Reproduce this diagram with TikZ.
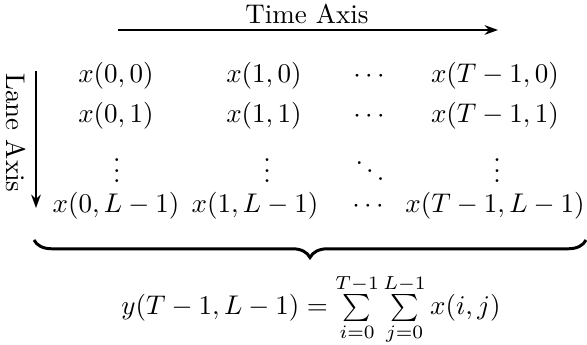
\documentclass[tikz,border=0pt]{standalone}
\usetikzlibrary{arrows.meta,decorations.pathreplacing}
\begin{document}
\begin{tikzpicture}[x=0.37037pt,y=-0.37037pt,
  cell/.style={anchor=base,inner sep=0pt},
  axislabel/.style={inner sep=0pt},
  axisarrow/.style={-{Stealth[length=5pt,width=3.6pt]},line width=0.5pt},
  bracestyle/.style={decorate,decoration={brace,mirror,amplitude=6.5pt},line width=1.1pt}]
\useasboundingbox (0,0) rectangle (587,345);
% axes
\node[axislabel] (tlabel) at (307,14) {Time Axis};
\coordinate (ts) at (118,30);
\coordinate (te) at (498,30);
\draw[axisarrow] (ts) -- (te);
\node[axislabel,rotate=-90] (llabel) at (16,133) {Lane Axis};
\coordinate (ls) at (36,71);
\coordinate (le) at (36,208);
\draw[axisarrow] (ls) -- (le);
% row 1
\node[cell] (a11) at (116,83) {$x(0,0)$};
\node[cell] (a12) at (264,83) {$x(1,0)$};
\node[cell] (a13) at (369,83) {$\cdots$};
\node[cell] (a14) at (495,83) {$x(T-1,0)$};
% row 2
\node[cell] (a21) at (116,123) {$x(0,1)$};
\node[cell] (a22) at (264,123) {$x(1,1)$};
\node[cell] (a23) at (369,123) {$\cdots$};
\node[cell] (a24) at (495,123) {$x(T-1,1)$};
% row 3
\node[cell] (a31) at (117,183) {$\vdots$};
\node[cell] (a32) at (267,183) {$\vdots$};
\node[cell] (a33) at (370,183) {$\ddots$};
\node[cell] (a34) at (497,183) {$\vdots$};
% row 4
\node[cell] (a41) at (116,213) {$x(0,L-1)$};
\node[cell] (a42) at (255,213) {$x(1,L-1)$};
\node[cell] (a43) at (368,213) {$\cdots$};
\node[cell] (a44) at (495,213) {$x(T-1,L-1)$};
% brace
\coordinate (bl) at (34,240);
\coordinate (br) at (586,240);
\draw[bracestyle] (bl) -- (br);
% formula
\node[cell] (f) at (311,315) {$y(T-1,L-1)=\sum\limits_{i=0}^{T-1}\sum\limits_{j=0}^{L-1}x(i,j)$};
\end{tikzpicture}
\end{document}
